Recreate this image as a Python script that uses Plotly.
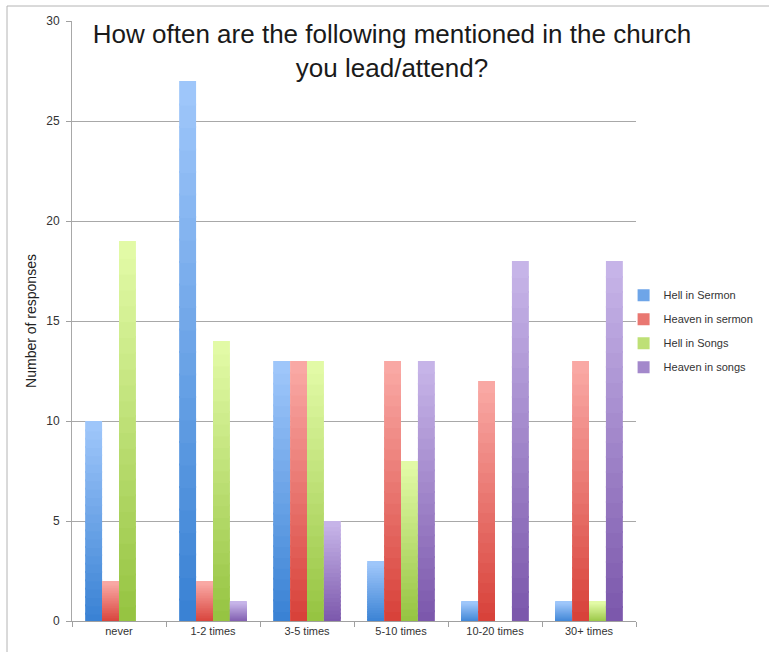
import plotly.graph_objects as go

categories = ["never", "1-2 times", "3-5 times", "5-10 times", "10-20 times", "30+ times"]
series_names = ["Hell in Sermon", "Heaven in sermon", "Hell in Songs", "Heaven in songs"]
hell_sermon = [10, 27, 13, 3, 1, 1]
heaven_sermon = [2, 2, 13, 13, 12, 13]
hell_songs = [19, 14, 13, 8, 0, 1]
heaven_songs = [0, 1, 5, 13, 18, 18]
series_values = [hell_sermon, heaven_sermon, hell_songs, heaven_songs]
y_ticks = [0, 5, 10, 15, 20, 25, 30]

# (bottom colour, top colour) for the vertical gradient
grad = [
    ((58, 130, 212), (158, 198, 250)),
    ((216, 66, 58), (249, 168, 164)),
    ((150, 196, 66), (226, 250, 166)),
    ((124, 88, 172), (198, 180, 232)),
]
N = 24
EPS = 0.1  # slight overlap between gradient slices to hide seams

def mix(a, b, t):
    return "rgb(%d,%d,%d)" % tuple(round(a[i] + (b[i] - a[i]) * t) for i in range(3))

fig = go.Figure()
for s, (name, vals) in enumerate(zip(series_names, series_values)):
    lo, hi = grad[s]
    for k in range(N):
        t = k / (N - 1)
        bases = [max(0.0, v * k / N - (EPS if k > 0 else 0)) if v > 0 else 0 for v in vals]
        tops = [v * (k + 1) / N for v in vals]
        fig.add_trace(go.Bar(
            x=categories,
            y=[tp - b for tp, b in zip(tops, bases)],
            base=bases,
            offsetgroup=str(s),
            legendgroup=str(s),
            name=name,
            showlegend=(k == N // 2),
            marker=dict(color=mix(lo, hi, t), line=dict(width=0)),
            hoverinfo="skip",
        ))

fig.update_layout(
    width=769, height=652,
    margin=dict(l=72, r=133, t=21, b=31, autoexpand=False),
    paper_bgcolor="white", plot_bgcolor="white",
    barmode="group", bargap=0.28, bargroupgap=0,
    font=dict(family="Liberation Sans, Arial, sans-serif", size=12, color="#333"),
    title=dict(
        text="How often are the following mentioned in the church<br>you lead/attend?",
        x=392 / 769, xref="container", xanchor="center",
        y=1 - 43 / 652, yref="container", yanchor="middle",
        font=dict(family="Liberation Sans, Arial, sans-serif", size=26, color="#1a1a1a"),
    ),
    legend=dict(
        x=0.978, xanchor="left", y=0.483, yanchor="middle",
        font=dict(size=11, color="#333"),
        tracegroupgap=5, traceorder="grouped",
        itemwidth=30, bgcolor="rgba(0,0,0,0)",
    ),
    showlegend=True,
)
fig.update_yaxes(
    range=[0, 30], tickvals=y_ticks, ticks="outside", ticklen=5, tickcolor="#a0a0a0",
    showgrid=True, gridcolor="#a8a8a8", gridwidth=1,
    showline=True, linecolor="#a8a8a8", linewidth=1, zeroline=False,
    tickfont=dict(size=12, color="#333"), ticklabelstandoff=4,
    title=dict(text="Number of responses", font=dict(size=14, color="#222"), standoff=6),
)
fig.update_xaxes(
    ticks="outside", tickson="boundaries", ticklen=5, tickcolor="#a0a0a0",
    showline=True, linecolor="#a0a0a0", linewidth=1, showgrid=False,
    tickfont=dict(size=11, color="#333"),
)
# light frame around the slide
fx = (7 - 72) / 564
fy = (621 - 6) / 600
fig.add_shape(type="line", xref="paper", yref="paper", x0=fx, x1=(769 - 72) / 564, y0=fy, y1=fy,
              line=dict(color="#b4b4b4", width=1))
fig.add_shape(type="line", xref="paper", yref="paper", x0=fx, x1=fx, y0=fy, y1=(621 - 660) / 600,
              line=dict(color="#b4b4b4", width=1))

fig.write_html("out.html")
